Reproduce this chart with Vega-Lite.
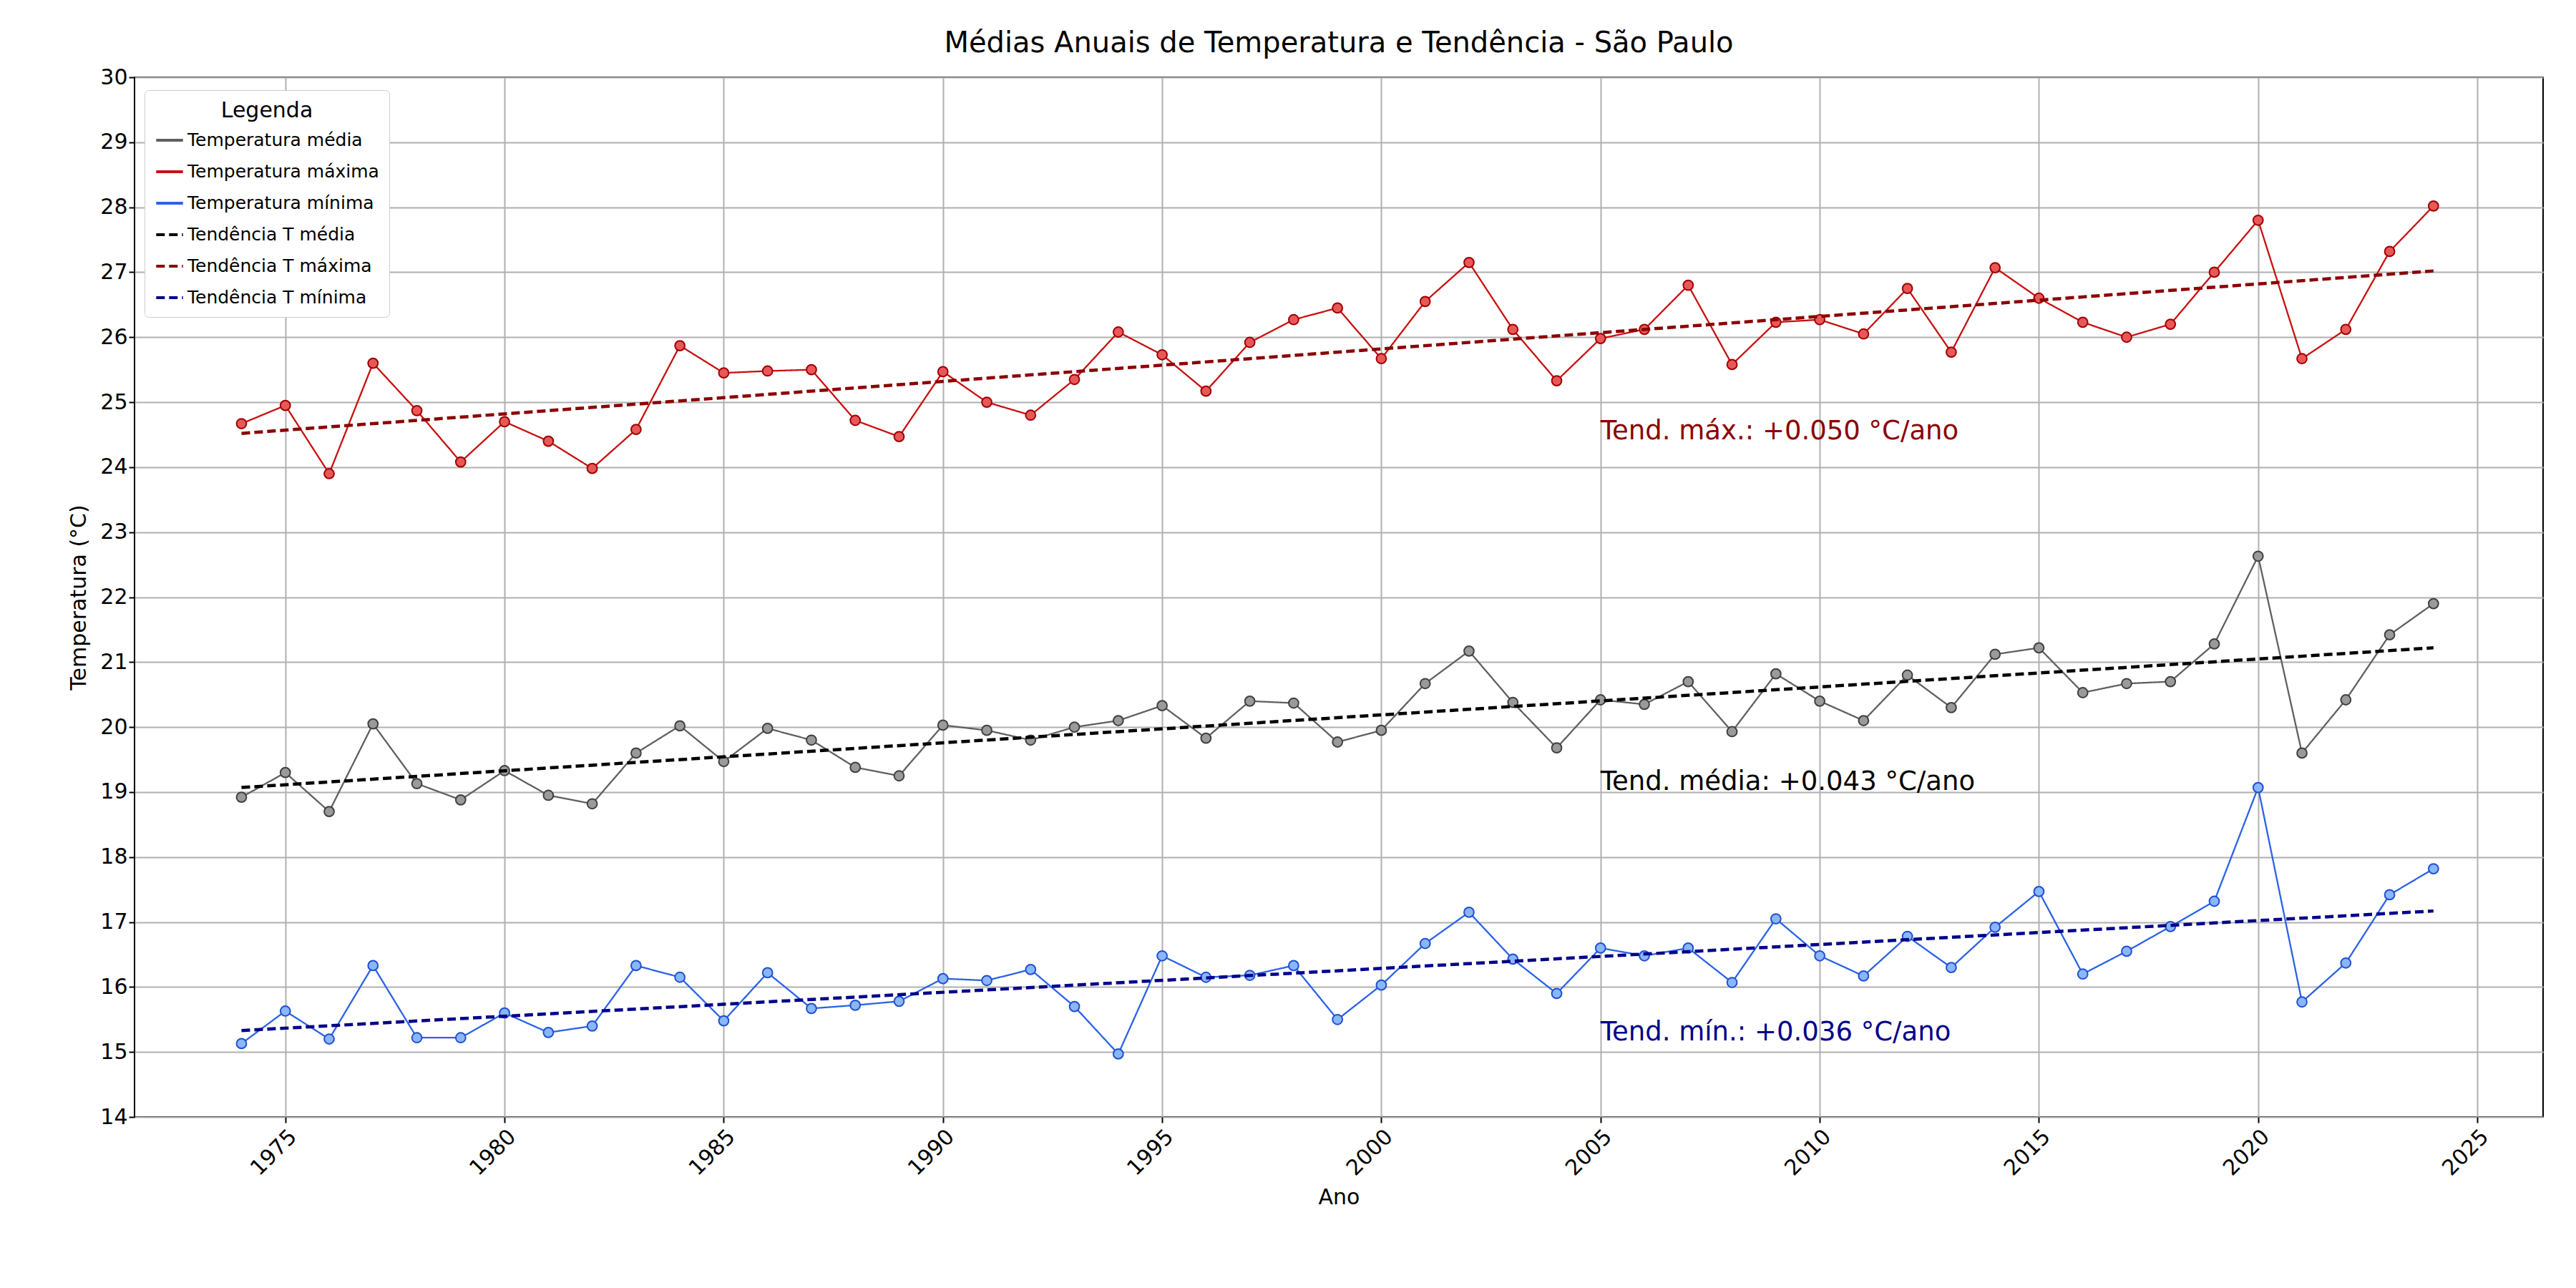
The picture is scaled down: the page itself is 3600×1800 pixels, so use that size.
{
"$schema":"https://vega.github.io/schema/vega-lite/v6.json",
"width":3366,"height":1453,
"autosize":{"type":"none"},
"padding":{"left":188,"top":108,"right":46,"bottom":239},
"background":"white",
"config":{"view":{"stroke":"black","strokeWidth":2},"font":"DejaVu Sans"},
"title":{"text":"Médias Anuais de Temperatura e Tendência - São Paulo","fontSize":40,"fontWeight":"normal","color":"black","offset":12},
"datasets":{
"obs":[
{"ano":1974,"media":18.92,"max":24.67,"min":15.13},{"ano":1975,"media":19.3,"max":24.95,"min":15.63},{"ano":1976,"media":18.7,"max":23.9,"min":15.2},{"ano":1977,"media":20.05,"max":25.6,"min":16.33},{"ano":1978,"media":19.13,"max":24.87,"min":15.22},{"ano":1979,"media":18.88,"max":24.08,"min":15.22},{"ano":1980,"media":19.33,"max":24.7,"min":15.6},{"ano":1981,"media":18.95,"max":24.4,"min":15.3},{"ano":1982,"media":18.82,"max":23.98,"min":15.4},{"ano":1983,"media":19.6,"max":24.58,"min":16.33},{"ano":1984,"media":20.02,"max":25.87,"min":16.15},{"ano":1985,"media":19.47,"max":25.45,"min":15.48},{"ano":1986,"media":19.98,"max":25.48,"min":16.22},{"ano":1987,"media":19.8,"max":25.5,"min":15.67},{"ano":1988,"media":19.38,"max":24.72,"min":15.72},{"ano":1989,"media":19.25,"max":24.47,"min":15.78},{"ano":1990,"media":20.03,"max":25.47,"min":16.13},{"ano":1991,"media":19.95,"max":25.0,"min":16.1},{"ano":1992,"media":19.8,"max":24.8,"min":16.27},{"ano":1993,"media":20.0,"max":25.35,"min":15.7},{"ano":1994,"media":20.1,"max":26.08,"min":14.97},{"ano":1995,"media":20.33,"max":25.73,"min":16.48},{"ano":1996,"media":19.83,"max":25.17,"min":16.15},{"ano":1997,"media":20.4,"max":25.92,"min":16.18},{"ano":1998,"media":20.37,"max":26.27,"min":16.33},{"ano":1999,"media":19.77,"max":26.45,"min":15.5},{"ano":2000,"media":19.95,"max":25.67,"min":16.03},{"ano":2001,"media":20.67,"max":26.55,"min":16.67},{"ano":2002,"media":21.17,"max":27.15,"min":17.15},{"ano":2003,"media":20.38,"max":26.12,"min":16.43},{"ano":2004,"media":19.68,"max":25.33,"min":15.9},{"ano":2005,"media":20.42,"max":25.98,"min":16.6},{"ano":2006,"media":20.35,"max":26.12,"min":16.48},{"ano":2007,"media":20.7,"max":26.8,"min":16.6},{"ano":2008,"media":19.93,"max":25.58,"min":16.07},{"ano":2009,"media":20.82,"max":26.23,"min":17.05},{"ano":2010,"media":20.4,"max":26.27,"min":16.48},{"ano":2011,"media":20.1,"max":26.05,"min":16.17},{"ano":2012,"media":20.8,"max":26.75,"min":16.78},{"ano":2013,"media":20.3,"max":25.77,"min":16.3},{"ano":2014,"media":21.12,"max":27.07,"min":16.92},{"ano":2015,"media":21.22,"max":26.6,"min":17.47},{"ano":2016,"media":20.53,"max":26.23,"min":16.2},{"ano":2017,"media":20.67,"max":26.0,"min":16.55},{"ano":2018,"media":20.7,"max":26.2,"min":16.93},{"ano":2019,"media":21.28,"max":27.0,"min":17.32},{"ano":2020,"media":22.63,"max":27.8,"min":19.07},{"ano":2021,"media":19.6,"max":25.67,"min":15.77},{"ano":2022,"media":20.42,"max":26.12,"min":16.37},{"ano":2023,"media":21.42,"max":27.32,"min":17.42},{"ano":2024,"media":21.9,"max":28.02,"min":17.82}
],
"trend":[
{"ano":1974,"serie":"Tendência T média","temp":19.07},{"ano":2024,"serie":"Tendência T média","temp":21.22},
{"ano":1974,"serie":"Tendência T máxima","temp":24.52},{"ano":2024,"serie":"Tendência T máxima","temp":27.02},
{"ano":1974,"serie":"Tendência T mínima","temp":15.33},{"ano":2024,"serie":"Tendência T mínima","temp":17.17}
],
"notes":[
{"ano":2005,"temp":24.55,"label":"Tend. máx.: +0.050 °C/ano","serie":"Tendência T máxima"},
{"ano":2005,"temp":19.15,"label":"Tend. média: +0.043 °C/ano","serie":"Tendência T média"},
{"ano":2005,"temp":15.3,"label":"Tend. mín.: +0.036 °C/ano","serie":"Tendência T mínima"}
]
},
"encoding":{
"x":{"field":"ano","type":"quantitative","scale":{"domain":[1971.56,2026.5],"nice":false,"zero":false},
"axis":{"title":"Ano","values":[1975,1980,1985,1990,1995,2000,2005,2010,2015,2020,2025],"format":"d","labelAngle":-45,"labelAlign":"right","labelBaseline":"top","labelFontSize":30,"titleFontSize":30,"titleFontWeight":"normal","labelColor":"black","titleColor":"black","grid":true,"gridColor":"#b0b0b0","gridWidth":2,"tickColor":"black","tickWidth":2,"tickSize":8,"domain":false,"labelPadding":4,"titlePadding":10}},
"y":{"field":"temp","type":"quantitative","scale":{"domain":[14,30],"nice":false,"zero":false},
"axis":{"title":"Temperatura (°C)","values":[14,15,16,17,18,19,20,21,22,23,24,25,26,27,28,29,30],"labelFontSize":30,"titleFontSize":30,"titleFontWeight":"normal","labelColor":"black","titleColor":"black","grid":true,"gridColor":"#b0b0b0","gridWidth":2,"tickColor":"black","tickWidth":2,"tickSize":8,"domain":false,"titlePadding":14}}
},
"layer":[
{"data":{"name":"obs"},
"transform":[{"fold":["media","max","min"],"as":["k","temp"]},
{"calculate":"datum.k=='media'?'Temperatura média':datum.k=='max'?'Temperatura máxima':'Temperatura mínima'","as":"serie"}],
"layer":[
{"mark":{"type":"line","strokeWidth":2.3},
"encoding":{"color":{"field":"serie","type":"nominal",
"scale":{"domain":["Temperatura média","Temperatura máxima","Temperatura mínima","Tendência T média","Tendência T máxima","Tendência T mínima"],"range":["#606060","#c81010","#2a62e8","black","#8b0000","#00008b"]},
"legend":{"title":"Legenda","orient":"none","legendX":14,"legendY":18,"titleFontSize":30,"titleFontWeight":"normal","titleAnchor":"middle","labelFontSize":25,"labelLimit":600,"symbolType":"stroke","symbolSize":1400,"symbolStrokeWidth":4,"fillColor":"white","strokeColor":"#cccccc","padding":14,"cornerRadius":6,"rowPadding":10}},
"strokeDash":{"field":"serie","type":"nominal","scale":{"domain":["Temperatura média","Temperatura máxima","Temperatura mínima","Tendência T média","Tendência T máxima","Tendência T mínima"],"range":[[1,0],[1,0],[1,0],[12,6],[12,6],[12,6]]}}}},
{"mark":{"type":"point","filled":true,"size":190,"strokeWidth":2,"opacity":1},
"encoding":{"fill":{"field":"serie","type":"nominal","legend":null,"scale":{"domain":["Temperatura média","Temperatura máxima","Temperatura mínima"],"range":["#9a9a9a","#e85858","#8ab6fa"]}},
"stroke":{"field":"serie","type":"nominal","legend":null,"scale":{"domain":["Temperatura média","Temperatura máxima","Temperatura mínima"],"range":["#404040","#a00000","#2050d0"]}}}}
]},
{"data":{"name":"trend"},"mark":{"type":"line","strokeWidth":4.5},
"encoding":{"color":{"field":"serie","type":"nominal"},"strokeDash":{"field":"serie","type":"nominal"}}},
{"data":{"name":"notes"},"mark":{"type":"text","align":"left","baseline":"middle","fontSize":37},
"encoding":{"text":{"field":"label"},"color":{"field":"serie","type":"nominal"}}}
]
}
